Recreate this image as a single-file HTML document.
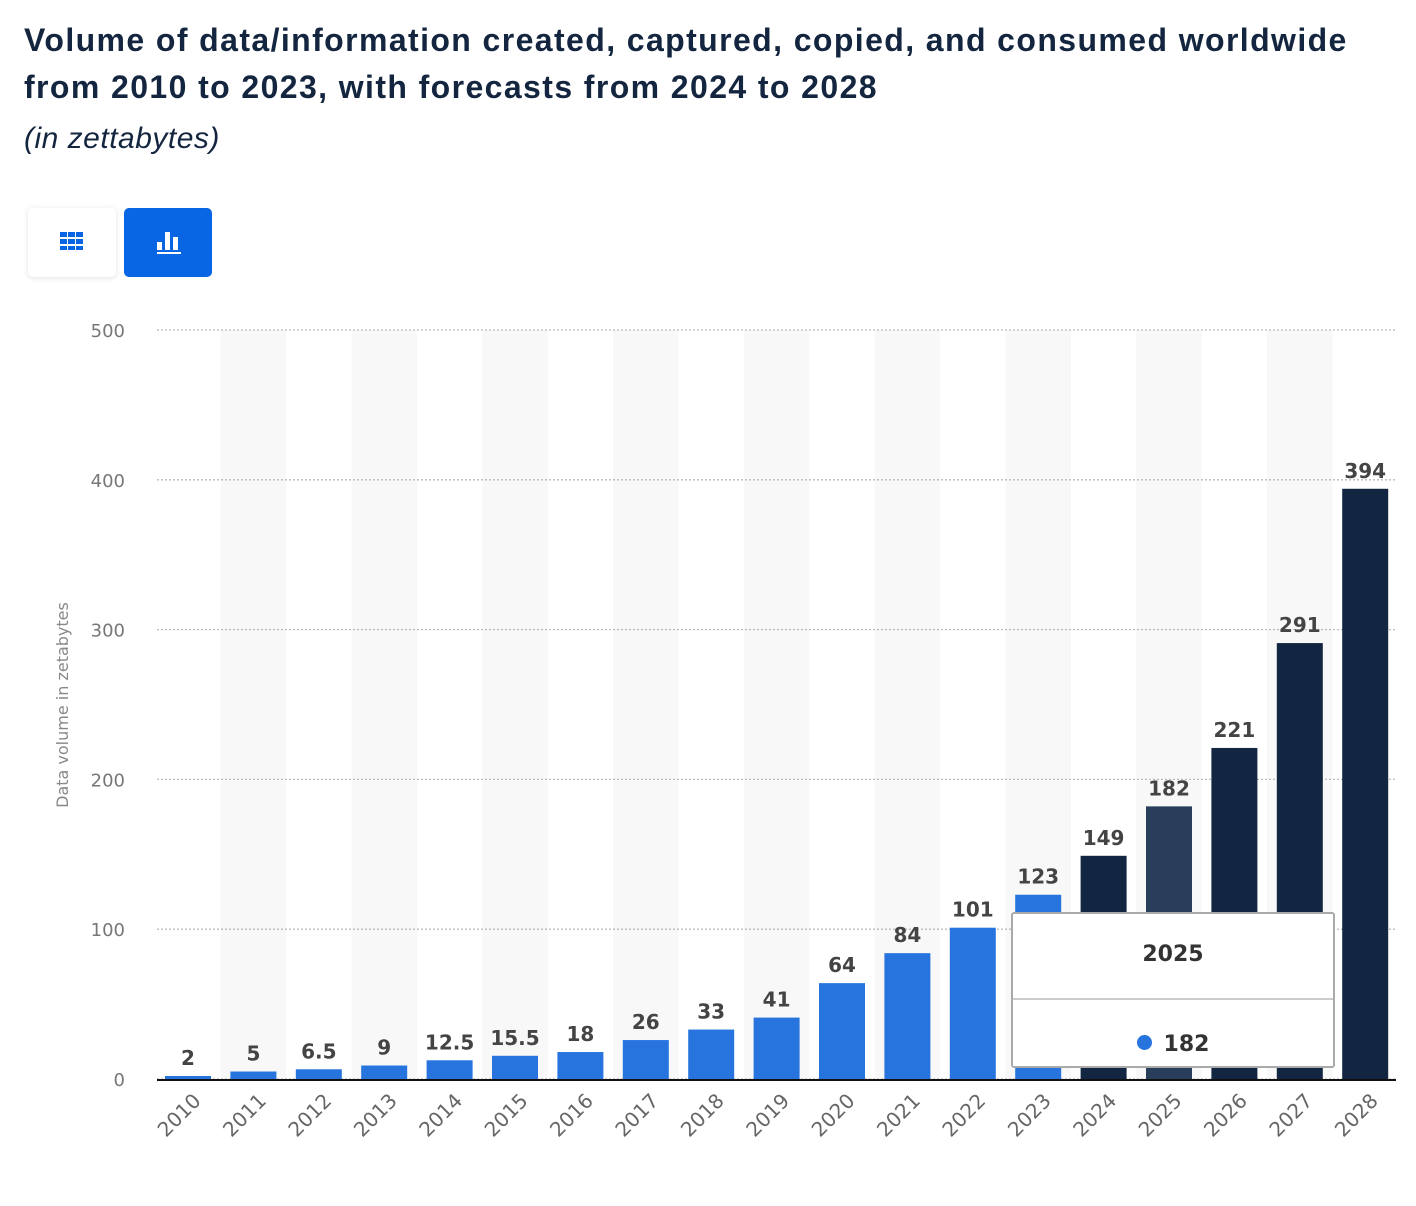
<!DOCTYPE html>
<html><head><meta charset="utf-8"><style>
body{margin:0;background:#fff;width:1416px;height:1206px;overflow:hidden;font-family:"Liberation Sans",sans-serif;position:relative}
h1{position:absolute;left:24px;top:17px;margin:0;font-size:32px;letter-spacing:1.4px;line-height:47px;color:#13253f;font-weight:bold;width:1400px;white-space:nowrap}
.sub{position:absolute;left:24px;top:122px;font-size:30px;font-style:italic;color:#13253f;letter-spacing:0.5px}
.btn{position:absolute;top:208px;width:88px;height:69px;border-radius:5px}
</style></head><body>
<h1>Volume of data/information created, captured, copied, and consumed worldwide<br>from 2010 to 2023, with forecasts from 2024 to 2028</h1>
<div class="sub">(in zettabytes)</div>
<div class="btn" style="left:28px;background:#fff;box-shadow:0 1px 6px rgba(0,0,0,.12)">
<svg width="88" height="69"><g fill="#0866e4"><rect x="32" y="24" width="7" height="5"/><rect x="40" y="24" width="7" height="5"/><rect x="48" y="24" width="7" height="5"/><rect x="32" y="31" width="7" height="5"/><rect x="40" y="31" width="7" height="5"/><rect x="48" y="31" width="7" height="5"/><rect x="32" y="38" width="7" height="4"/><rect x="40" y="38" width="7" height="4"/><rect x="48" y="38" width="7" height="4"/></g></svg></div>
<div class="btn" style="left:124px;background:#0866e4">
<svg width="88" height="69"><g fill="#fff"><rect x="33" y="34" width="5" height="8"/><rect x="41" y="24" width="5" height="18"/><rect x="49" y="29" width="5" height="13"/><rect x="33" y="44" width="24" height="2"/></g></svg></div>
<svg id="c" width="1416" height="1206" style="position:absolute;left:0;top:0"></svg>
<div style="position:absolute;left:1011px;top:912px;width:320px;height:152px;background:#fff;border:2px solid #aaa;border-radius:3px;font-family:'DejaVu Sans',sans-serif;font-weight:bold;color:#333">
<div style="position:absolute;top:28px;width:100%;text-align:center;font-size:22px">2025</div>
<div style="position:absolute;top:84px;left:0;width:320px;border-top:2px solid #ccc"></div>
<div style="position:absolute;top:118px;left:0;width:100%;text-align:center;font-size:22px"><span style="display:inline-block;width:15px;height:15px;border-radius:50%;background:#2774de;margin-right:12px;vertical-align:1px"></span>182</div>
</div>
<script>
const years=["2010","2011","2012","2013","2014","2015","2016","2017","2018","2019","2020","2021","2022","2023","2024","2025","2026","2027","2028"];
const values=[2,5,6.5,9,12.5,15.5,18,26,33,41,64,84,101,123,149,182,221,291,394];
const labels=["2","5","6.5","9","12.5","15.5","18","26","33","41","64","84","101","123","149","182","221","291","394"];
const forecast=[0,0,0,0,0,0,0,0,0,0,0,0,0,0,1,1,1,1,1];
const ticks=[0,100,200,300,400,500];
const NS="http://www.w3.org/2000/svg",svg=document.getElementById('c');
const y0=1079,ppu=(1079-330)/500,x0=188,step=65.4,bw=46;
const Y=v=>y0-v*ppu,X=i=>x0+i*step;
function el(t,a,txt){const e=document.createElementNS(NS,t);for(const k in a)e.setAttribute(k,a[k]);if(txt!==undefined)e.textContent=txt;svg.appendChild(e);return e;}
years.forEach((y,i)=>{if(i%2==1){const b=el('rect',{x:X(i)-step/2,y:330,width:step,height:y0-330,fill:'#f8f8f8'});

}});
ticks.forEach(t=>{const g=el('line',{x1:157,x2:1395,y1:Y(t),y2:Y(t),stroke:'#bbb','stroke-dasharray':'2,2','stroke-width':1.3});


const l=el('text',{x:125,y:Y(t)+7,'text-anchor':'end','font-size':18,fill:'#777','font-family':'DejaVu Sans, sans-serif'},t);

});
const yt=el('text',{transform:'translate(68,705) rotate(-90)','text-anchor':'middle','font-size':16,fill:'#888','font-family':'DejaVu Sans, sans-serif'},'Data volume in zetabytes');


years.forEach((y,i)=>{
 const col=forecast[i]?(y==="2025"?'#283e5b':'#122641'):'#2774de';
 const b=el('rect',{x:X(i)-bw/2,y:Y(values[i]),width:bw,height:values[i]*ppu,fill:col});
 
 
 const t=el('text',{x:X(i),y:Y(values[i])-11,'text-anchor':'middle','font-size':20,'font-weight':'bold',fill:'#444','font-family':'DejaVu Sans, sans-serif'},labels[i]);
 
 
 const xl=el('text',{transform:`translate(${X(i)+14},${1102}) rotate(-45)`,'text-anchor':'end','font-size':20,fill:'#666','font-family':'DejaVu Sans, sans-serif'},y);
 
 
});
const ax=el('line',{x1:157,x2:1396,y1:1080,y2:1080,stroke:'#111','stroke-width':2});


</script>
</body></html>
